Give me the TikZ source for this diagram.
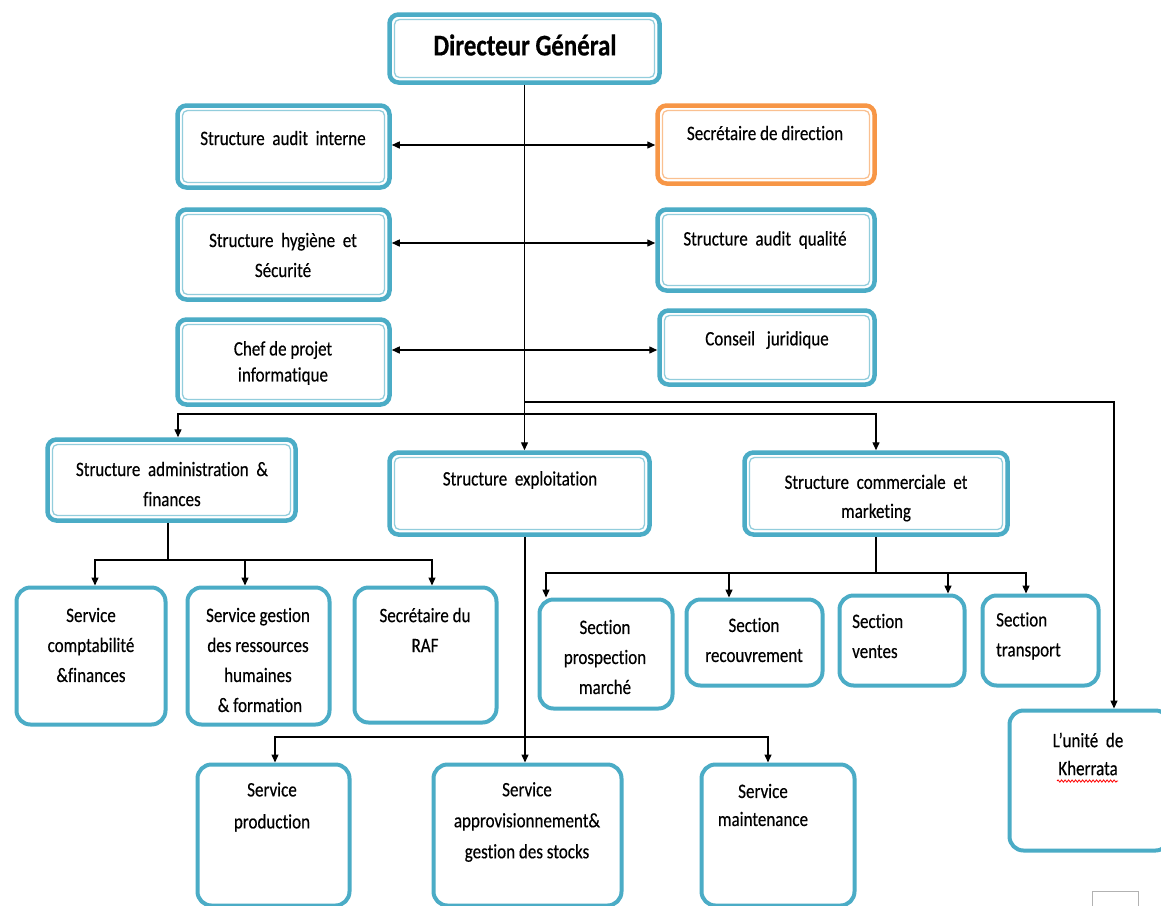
\documentclass[tikz,border=0pt]{standalone}
\usepackage{fontspec}
\setmainfont{Carlito}[FakeStretch=0.83, FakeBold=0.35, Ligatures=NoCommon, BoldFeatures={FakeBold=0.5}]
\usetikzlibrary{arrows.meta,decorations.pathmorphing}
\definecolor{acc}{HTML}{4BACC6}
\definecolor{accl}{HTML}{92CDDC}
\definecolor{org}{HTML}{F79646}
\definecolor{orgl}{HTML}{FAC090}
\newcommand\mkbox[6]{%
  \node[#2, minimum width={(#5-#3-5)*1pt}, minimum height={(#6-#4-5)*1pt}] (#1) at ({(#3+#5)/2},{(#4+#6)/2}) {};}
\tikzset{
  innerline/.style={path picture={\draw[#1, line width=1.3pt, rounded corners=5pt]
      ([shift={(5pt,5pt)}]path picture bounding box.south west) rectangle
      ([shift={(-5pt,-5pt)}]path picture bounding box.north east);}},
  dbox/.style={draw=acc, line width=4.5pt, rounded corners=9pt, fill=white, inner sep=0pt, innerline=accl},
  obox/.style={draw=org, line width=4.5pt, rounded corners=9pt, fill=white, inner sep=0pt, innerline=orgl},
  sbox/.style={draw=acc, line width=4pt, rounded corners=14pt, fill=white, inner sep=0pt},
  txt/.style={align=center, inner sep=0pt, font=\fontsize{20.5}{30}\selectfont},
  arr/.style={draw=black, line width=1.4pt, -{Triangle[length=8pt,width=7pt]}},
  darr/.style={draw=black, line width=1.4pt, {Triangle[length=8pt,width=7pt]}-{Triangle[length=8pt,width=7pt]}},
  ln/.style={draw=black, line width=1.4pt},
}
\begin{document}
\begin{tikzpicture}[x=1pt,y=-1pt]
\clip (0,0) rectangle (1161,905);
\fill[white] (0,0) rectangle (1161,905);
% boxes
\mkbox{dg}{dbox}{387}{12}{662}{85}
\mkbox{sai}{dbox}{175}{103}{392}{190}
\mkbox{sec}{obox}{655}{103}{877}{186}
\mkbox{shs}{dbox}{175}{207}{392}{302}
\mkbox{saq}{dbox}{655}{207}{877}{293}
\mkbox{cpi}{dbox}{175}{317}{392}{407}
\mkbox{cj}{dbox}{657}{308}{877}{387}
\mkbox{adm}{dbox}{45}{437}{298}{523}
\mkbox{expl}{dbox}{387}{450}{652}{537}
\mkbox{com}{dbox}{742}{450}{1010}{537}
\mkbox{comptab}{sbox}{14}{585}{168}{727}
\mkbox{rh}{sbox}{185}{585}{332}{727}
\mkbox{raf}{sbox}{352}{585}{499}{725}
\mkbox{prosp}{sbox}{537}{597}{675}{711}
\mkbox{recouv}{sbox}{684}{597}{825}{688}
\mkbox{ventes}{sbox}{837}{593}{967}{688}
\mkbox{transp}{sbox}{980}{593}{1101}{688}
\mkbox{prod}{sbox}{195}{762}{352}{908}
\mkbox{appro}{sbox}{431}{762}{624}{908}
\mkbox{maint}{sbox}{699}{762}{857}{908}
\mkbox{kh}{sbox}{1007}{708}{1172}{853}
% texts
\node[txt, font=\bfseries\fontsize{30}{36}\selectfont] (dg-t) at (525,45) {Directeur Général};
\node[txt] (sai-t) at (283,138) {Structure\ \ audit\ \ interne};
\node[txt] (sec-t) at (765,133) {Secrétaire de direction};
\node[txt] (shs-t) at (283,255) {Structure\ \ hygiène\ \ et\\Sécurité};
\node[txt] (saq-t) at (765,240) {Structure\ \ audit\ \ qualité};
\node[txt, font=\fontsize{20.5}{26}\selectfont] (cpi-t) at (283,363) {Chef de projet\\informatique};
\node[txt] (cj-t) at (767,340) {Conseil\ \ \ juridique};
\node[txt] (adm-t) at (172,484) {Structure\ \ administration\ \ \&\\finances};
\node[txt] (expl-t) at (520,480) {Structure\ \ exploitation};
\node[txt, font=\fontsize{20.5}{29}\selectfont] (com-t) at (876,498) {Structure\ \ commerciale\ \ et\\marketing};
\node[txt] (comptab-t) at (91,645) {Service\\comptabilité\\\&finances};
\node[txt] (rh-t) at (258,660) {Service gestion\\des ressources\\humaines\\\ \& formation};
\node[txt] (raf-t) at (425,630) {Secrétaire du\\RAF};
\node[txt] (prosp-t) at (605,657) {Section\\prospection\\marché};
\node[txt] (recouv-t) at (754,640) {Section\\recouvrement};
\node[txt, align=left, anchor=west] (ventes-t) at (852,636) {Section\\ventes};
\node[txt, align=left, anchor=west] (transp-t) at (996,636) {Section\\transport};
\node[txt, font=\fontsize{20.5}{32}\selectfont] (prod-t) at (272,807) {Service\\production};
\node[txt, font=\fontsize{20.5}{31}\selectfont] (appro-t) at (527,822) {Service\\approvisionnement\&\\gestion des stocks};
\node[txt, font=\fontsize{20.5}{28}\selectfont] (maint-t) at (763,805) {Service\\maintenance};
\node[txt, font=\fontsize{20.5}{28}\selectfont] (kh-t) at (1088,754) {L’unité\ \ de\\Kherrata};
\draw[red, line width=0.8pt, decorate, decoration={snake, amplitude=1.1pt, segment length=3.5pt}] (1057,781) -- (1118,781);
% page artifact
\draw[gray!60, line width=0.8pt] (1092,906) -- (1092,891) -- (1138,891) -- (1138,906);
% connectors
\draw[darr] ([yshift=1.5pt]sai.east) -- ([yshift=1.5pt]sai.east -| sec.west);
\draw[darr] ([yshift=11.5pt]shs.east) -- ([yshift=11.5pt]shs.east -| saq.west);
\draw[darr] ([yshift=12pt]cpi.east) -- ([yshift=12pt]cpi.east -| cj.west);
\draw[arr] (dg.south) -- (dg.south |- expl.north);
\coordinate (b1) at (525,414);
\coordinate (b2) at (525,402);
\draw[arr] (b1) -| ([xshift=6.5pt]adm.north);
\draw[arr] (b1) -| (com.north);
\draw[arr] (b2) -| ([xshift=24.5pt]kh.north);
% administration
\coordinate (b3) at (168,560);
\draw[ln] (adm.south -| b3) -- (b3);
\draw[arr] (b3) -| ([xshift=4pt]comptab.north);
\draw[arr] (b3) -| ([xshift=-13.5pt]rh.north);
\draw[arr] (b3) -| ([xshift=6.5pt]raf.north);
% commerciale
\coordinate (b4) at (876,573);
\draw[ln] (com.south) -- (b4);
\draw[arr] (b4) -| ([xshift=-60pt]prosp.north);
\draw[arr] (b4) -| ([xshift=-25.5pt]recouv.north);
\draw[arr] (b4) -| ([xshift=46pt]ventes.north);
\draw[arr] (b4) -| ([xshift=-14.5pt]transp.north);
% exploitation
\coordinate (b5) at (525,737);
\draw[arr] (expl.south -| b5) -- (appro.north -| b5);
\draw[arr] (b5) -| ([xshift=1.5pt]prod.north);
\draw[arr] (b5) -| ([xshift=-10pt]maint.north);
\end{tikzpicture}
\end{document}
